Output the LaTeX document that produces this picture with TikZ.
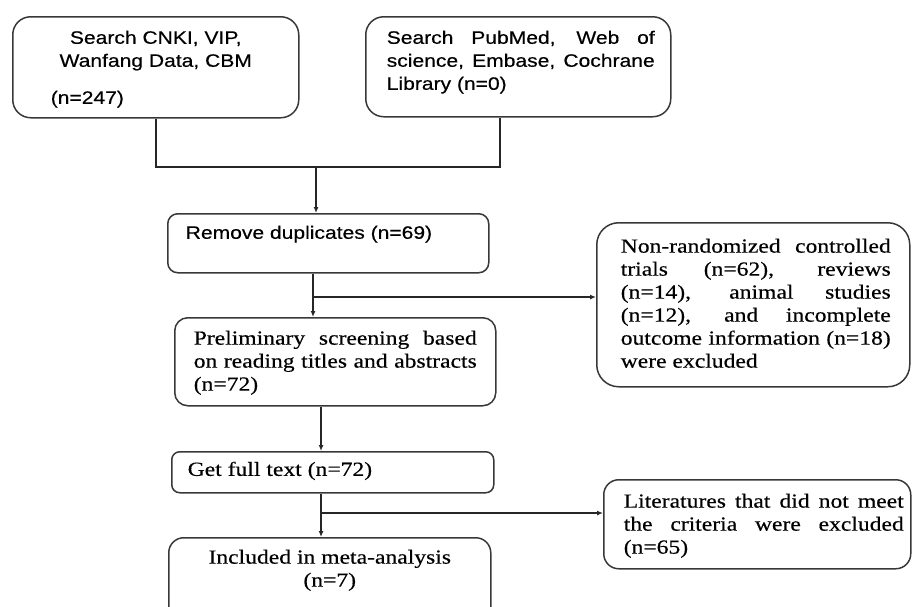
\documentclass[tikz,border=0pt]{standalone}
\usepackage{fontspec}
\usetikzlibrary{arrows.meta}
\setmainfont{Liberation Serif}[FakeStretch=1.18,FakeBold=0.4]
\newfontfamily\arialfont{Liberation Sans}[FakeStretch=1.17,FakeBold=0.4]
\newcommand\sanstext{\arialfont\fontsize{18}{23}\selectfont}
\newcommand\seriftext{\rmfamily\fontsize{20}{23}\selectfont}

\begin{document}
\begin{tikzpicture}[x=1pt,y=-1pt]

    \tikzset{
      box/.style={
        draw=black!78,
        line width=1.5pt,
        anchor=north west,
        inner sep=0pt,
      },
      link/.style={
        draw=black!85,
        line width=1.5pt,
      },
      flow/.style={
        link,
        -{Latex[length=6pt,width=5pt]},
      },
    }
    \useasboundingbox (0,0) rectangle (912,606);
    \clip (0,0) rectangle (912,606);

    \node[box, rounded corners=18pt, font=\sanstext, inner xsep=12pt, inner ysep=14pt] (cnki) at (12,16)
      {\parbox[c][73pt][t]{262pt}{{\centering Search CNKI, VIP,\\ Wanfang Data, CBM\par}\vspace{14pt}\hspace*{26pt}(n=247)}};
    \node[box, rounded corners=18pt, font=\sanstext, inner ysep=14pt] (pubmed) at (365,16)
      {\hspace*{21pt}\parbox[c][72pt][t]{268pt}{Search PubMed, Web of\linebreak science, Embase, Cochrane\linebreak Library (n=0)}\hspace*{16pt}};
    \node[box, rounded corners=10pt, font=\sanstext, inner xsep=18pt, inner ysep=12pt] (remove) at (167,213)
      {\parbox[c][35pt][t]{285pt}{Remove duplicates (n=69)}};
    \node[box, rounded corners=13pt, font=\seriftext, inner xsep=19pt, inner ysep=13pt] (prelim) at (174,317)
      {\parbox[c][62pt][t]{283pt}{Preliminary screening based\linebreak on reading titles and abstracts\linebreak (n=72)}};
    \node[box, rounded corners=22pt, font=\seriftext, inner ysep=16pt] (nonrand) at (596,222)
      {\hspace*{24pt}\parbox[c][132pt][t]{270pt}{Non-randomized controlled\linebreak trials (n=62), reviews\linebreak (n=14), animal studies\linebreak (n=12), and incomplete\linebreak outcome information (n=18)\linebreak were excluded}\hspace*{19pt}};
    \node[box, rounded corners=8pt, font=\seriftext, inner xsep=16pt, inner ysep=10pt] (full) at (171,451)
      {\parbox[c][21pt][t]{290pt}{Get full text (n=72)}};
    \node[box, rounded corners=15pt, font=\seriftext, inner ysep=14pt] (lit) at (603,479)
      {\hspace*{20pt}\parbox[c][61pt][t]{280pt}{Literatures that did not meet\linebreak the criteria were excluded\linebreak (n=65)}\hspace*{7pt}};
    \node[box, rounded corners=15pt, font=\seriftext, inner xsep=12pt, inner ysep=12pt] (incl) at (168,537)
      {\parbox[c][64pt][t]{298pt}{\centering Included in meta-analysis\\ (n=7)}};

    \coordinate (merge) at (316,167);
    \coordinate (split1) at (313,297);
    \coordinate (split2) at (321,513);

    \draw[link] (cnki.south) |- (merge) -| ([xshift=-18.5pt]pubmed.south);
    \draw[flow] (merge) -- (merge |- remove.north);
    \draw[link] (remove.south -| split1) -- (split1);
    \draw[flow] (split1) -- (split1 |- prelim.north);
    \draw[flow] (split1) -- (split1 -| nonrand.west);
    \draw[flow] (prelim.south -| split2) -- (split2 |- full.north);
    \draw[link] (full.south -| split2) -- (split2);
    \draw[flow] (split2) -- (split2 |- incl.north);
    \draw[flow] (split2) -- (split2 -| lit.west);

\end{tikzpicture}
\end{document}
